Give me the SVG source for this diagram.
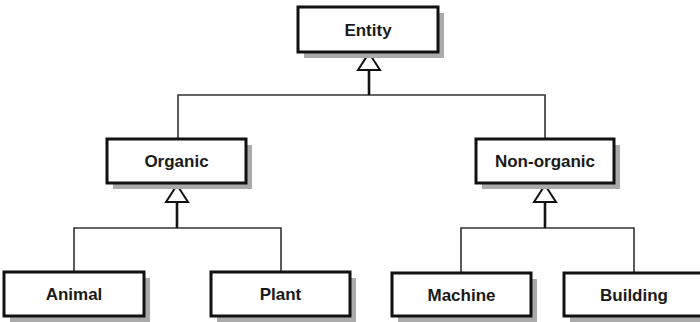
<svg xmlns="http://www.w3.org/2000/svg" width="700" height="322" viewBox="0 0 700 322">
  <style>
    .shadow { fill: #aaaaaa; }
    .box { fill: #ffffff; stroke: #111111; stroke-width: 3; }
    .label { font-family: "Liberation Sans", Arial, sans-serif; font-weight: bold; font-size: 17px; fill: #1a1a1a; text-anchor: middle; }
    .wire { fill: none; stroke: #333333; stroke-width: 1.6; }
    .stem { fill: none; stroke: #111111; stroke-width: 2.6; }
    .head { fill: #ffffff; stroke: #111111; stroke-width: 2; stroke-linejoin: miter; }
  </style>
  <rect width="700" height="322" fill="#ffffff"/>

  <!-- generalization connectors -->
  <g id="connectors">
    <!-- Entity children -->
    <path class="wire" d="M178,139 V95 H545 V139"/>
    <path class="stem" d="M369,95 V70"/>
    <polygon class="head" points="369,53 358,70 380,70"/>
    <!-- Organic children -->
    <path class="wire" d="M74,272 V228 H281 V272"/>
    <path class="stem" d="M177,228 V202"/>
    <polygon class="head" points="177,185 166,202 188,202"/>
    <!-- Non-organic children -->
    <path class="wire" d="M461,273 V228 H634 V273"/>
    <path class="stem" d="M545,228 V202"/>
    <polygon class="head" points="545,185 534,202 556,202"/>
  </g>

  <g id="entity">
    <rect class="shadow" x="304" y="13" width="140" height="45"/>
    <rect class="box" x="298" y="7" width="140" height="45"/>
    <text class="label" x="368" y="36">Entity</text>
  </g>

  <g id="organic">
    <rect class="shadow" x="113" y="145" width="139" height="44"/>
    <rect class="box" x="107" y="139" width="139" height="44"/>
    <text class="label" x="176.5" y="167">Organic</text>
  </g>

  <g id="non-organic">
    <rect class="shadow" x="482" y="145" width="138" height="44"/>
    <rect class="box" x="476" y="139" width="138" height="44"/>
    <text class="label" x="545" y="167">Non-organic</text>
  </g>

  <g id="animal">
    <rect class="shadow" x="10" y="278" width="140" height="44"/>
    <rect class="box" x="4" y="272" width="140" height="44"/>
    <text class="label" x="74" y="300">Animal</text>
  </g>

  <g id="plant">
    <rect class="shadow" x="217" y="278" width="139" height="44"/>
    <rect class="box" x="211" y="272" width="139" height="44"/>
    <text class="label" x="280.5" y="300">Plant</text>
  </g>

  <g id="machine">
    <rect class="shadow" x="398" y="279" width="139" height="43"/>
    <rect class="box" x="392" y="273" width="139" height="43"/>
    <text class="label" x="461.5" y="301">Machine</text>
  </g>

  <g id="building">
    <rect class="shadow" x="570" y="279" width="140" height="43"/>
    <rect class="box" x="564" y="273" width="140" height="43"/>
    <text class="label" x="634" y="301">Building</text>
  </g>
</svg>
